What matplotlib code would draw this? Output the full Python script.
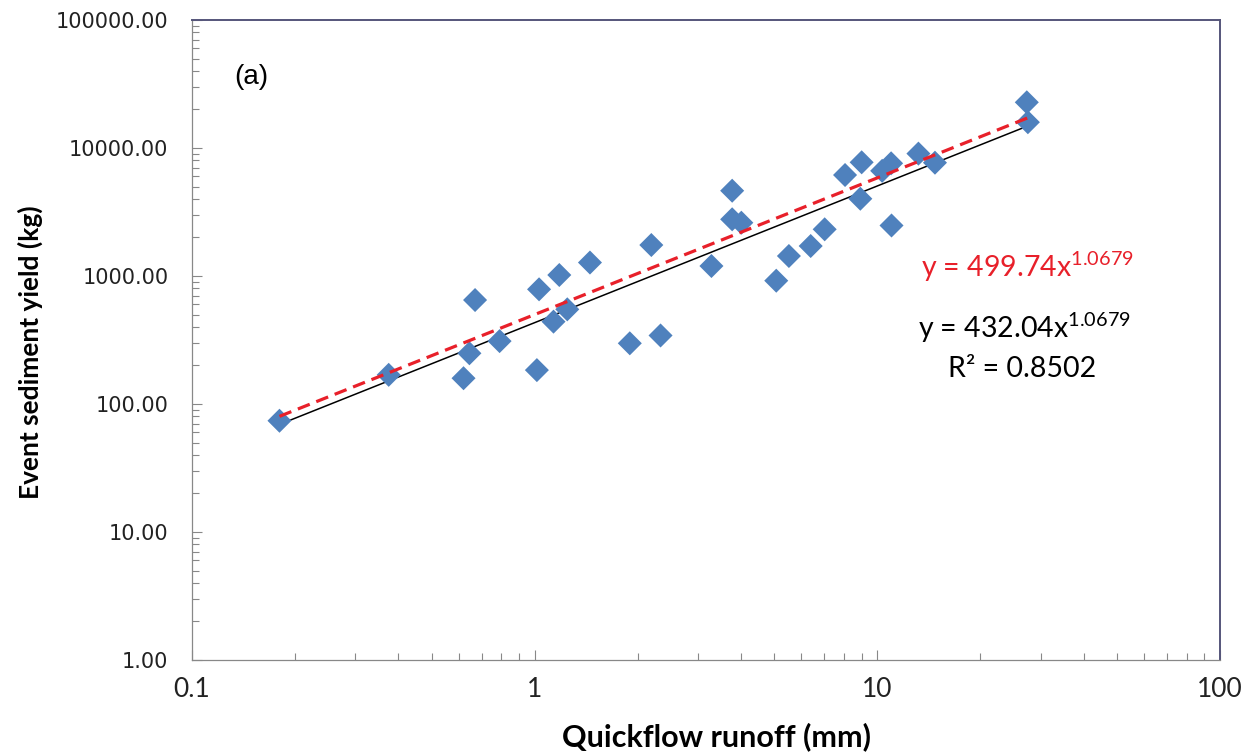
import numpy as np
import matplotlib
matplotlib.use("Agg")
import matplotlib.pyplot as plt
from matplotlib.ticker import LogLocator, NullFormatter, FuncFormatter

plt.rcParams['mathtext.fontset'] = 'custom'
plt.rcParams['mathtext.rm'] = 'Lato'
plt.rcParams['mathtext.it'] = 'Lato:italic'

# runoff (mm) and event sediment yield (kg)
runoff = [0.18, 0.375, 0.62, 0.645, 0.67, 0.79, 1.015, 1.03, 1.135, 1.18, 1.245,
          1.45, 1.895, 2.33, 2.19, 3.28, 3.77, 3.77, 4.01, 5.07, 5.52, 6.39,
          7.02, 8.05, 9.0, 8.92, 11.0, 10.33, 10.97, 13.18, 14.73, 27.3, 27.5]
sediment = [74, 169, 159, 249, 649, 310, 184, 787, 440, 1018, 549,
            1274, 298, 343, 1746, 1197, 4637, 2773, 2608, 919, 1433, 1715,
            2316, 6152, 7730, 4015, 2481, 6632, 7593, 9040, 7677, 22750, 15900]

# power law fits y = a * x^b
fit_a = 432.04
adj_a = 499.74
fit_b = 1.0679
r2 = 0.8502

x_ticks = [0.1, 1, 10, 100]
y_ticks = [1, 10, 100, 1000, 10000, 100000]

fig = plt.figure(figsize=(12.52, 7.56), dpi=100)
ax = fig.add_axes([192 / 1252, 96 / 756, 1028 / 1252, 640 / 756])

xs = np.geomspace(min(runoff), max(runoff), 50)
ax.plot(xs, fit_a * xs ** fit_b, color='black', lw=1.1, zorder=2)
ax.scatter(runoff, sediment, marker='D', s=150, color='#4F81BD',
           edgecolors='none', zorder=3)
ax.plot(xs, adj_a * xs ** fit_b, color='#E8202A', lw=2.3, ls=(0, (4, 2.2)), zorder=4)

ax.set_xscale('log')
ax.set_yscale('log')
ax.set_xlim(0.1, 100)
ax.set_ylim(1, 100000)
ax.set_xticks(x_ticks)
ax.set_yticks(y_ticks)
ax.xaxis.set_minor_locator(LogLocator(base=10, subs=np.arange(2, 10), numticks=20))
ax.yaxis.set_minor_locator(LogLocator(base=10, subs=np.arange(2, 10), numticks=20))
ax.xaxis.set_minor_formatter(NullFormatter())
ax.yaxis.set_minor_formatter(NullFormatter())
ax.xaxis.set_major_formatter(FuncFormatter(lambda v, p: '%g' % v))
ax.yaxis.set_major_formatter(FuncFormatter(lambda v, p: '%.2f' % v))

ax.tick_params(which='both', direction='in', color='#888888')
ax.tick_params(which='major', length=7, width=0.8)
ax.tick_params(which='minor', length=5, width=0.8)
ax.tick_params(axis='x', pad=12, labelsize=19)
ax.tick_params(axis='y', pad=17, labelsize=15)
for lab in ax.get_xticklabels():
    lab.set_fontfamily('Lato')
    lab.set_color('#222222')
for lab in ax.get_yticklabels():
    lab.set_fontfamily('DejaVu Sans')
    lab.set_color('#222222')

for side in ['left', 'bottom']:
    ax.spines[side].set_color('#888888')
    ax.spines[side].set_linewidth(0.9)
for side in ['top', 'right']:
    ax.spines[side].set_color('#55557A')
    ax.spines[side].set_linewidth(1.4)

fig.text(716 / 1252, 1 - 737 / 756, 'Quickflow runoff (mm)', ha='center', va='center',
         fontsize=22, fontweight='bold', family='Lato')
fig.text(30 / 1252, 1 - 352 / 756, 'Event sediment yield (kg)', ha='center', va='center',
         rotation=90, fontsize=19, fontweight='bold', family='Lato')

fig.text(234 / 1252, 1 - 84 / 756, '(a)', ha='left', va='baseline',
         fontsize=20, family='Liberation Sans')

fig.text(1027 / 1252, 1 - 277 / 756, 'y = %.2fx$^{\\mathrm{%.4f}}$' % (adj_a, fit_b),
         ha='center', va='baseline', fontsize=20.5, family='Lato', color='#E8202A')
fig.text(1024 / 1252, 1 - 338 / 756, 'y = %.2fx$^{\\mathrm{%.4f}}$' % (fit_a, fit_b),
         ha='center', va='baseline', fontsize=20.5, family='Lato', color='black')
fig.text(1022 / 1252, 1 - 377 / 756, 'R² = %.4f' % r2,
         ha='center', va='baseline', fontsize=20.5, family='Lato', color='black')

fig.savefig('out.png', dpi=100)
